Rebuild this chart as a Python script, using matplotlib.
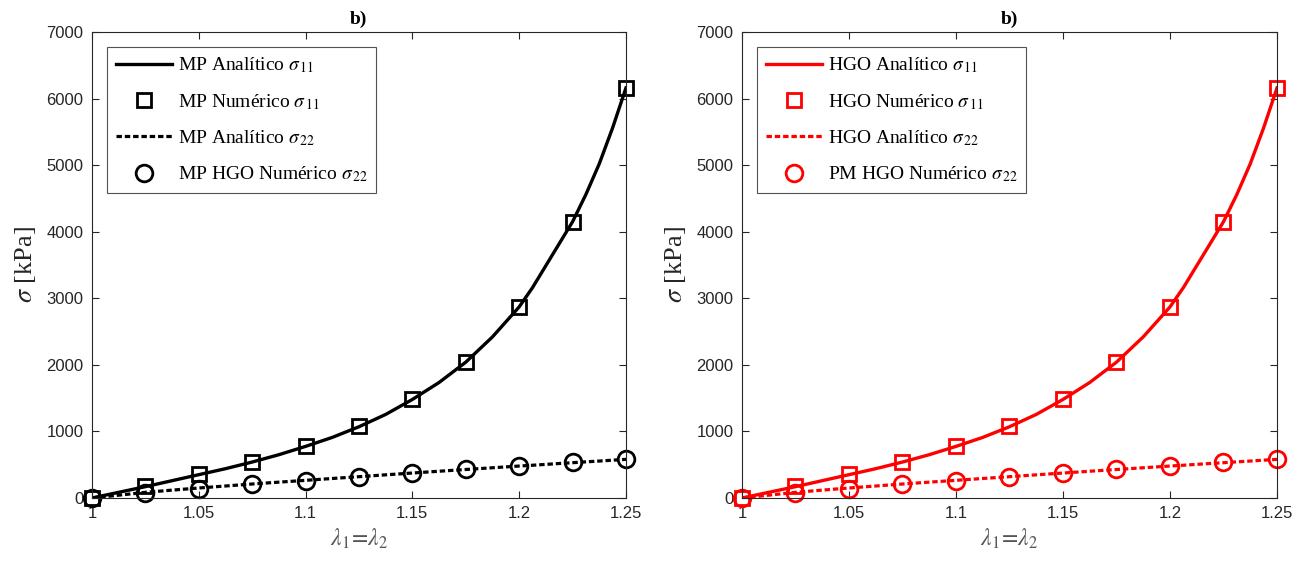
import numpy as np
import matplotlib
matplotlib.use("Agg")
from matplotlib import pyplot as plt

plt.rcParams["mathtext.fontset"] = "stix"
plt.rcParams["font.family"] = ["Liberation Serif", "DejaVu Serif"]

# ---------------------------------------------------------------------------
# Data
# ---------------------------------------------------------------------------
lam_num = [1.0, 1.025, 1.05, 1.075, 1.1, 1.125, 1.15, 1.175, 1.2, 1.225, 1.25]
s11_num = [0, 175, 355, 540, 780, 1075, 1485, 2050, 2875, 4150, 6165]
s22_num = [0, 75, 135, 205, 258, 320, 380, 430, 485, 535, 580]

lam_an = [1.0, 1.0125, 1.025, 1.0375, 1.05, 1.0625, 1.075, 1.0875, 1.1, 1.1125,
          1.125, 1.1375, 1.15, 1.1625, 1.175, 1.1875, 1.2, 1.20625, 1.2125,
          1.21875, 1.225, 1.23125, 1.2375, 1.24375, 1.25]
s11_an = [0, 85, 170, 260, 350, 440, 540, 650, 775, 910, 1070, 1255, 1480,
          1735, 2040, 2420, 2870, 3160, 3490, 3820, 4150, 4560, 5020, 5560, 6160]
s22_an = [0, 42, 85, 118, 150, 180, 210, 238, 265, 293, 320, 348, 375, 402,
          428, 454, 480, 492, 505, 518, 530, 543, 555, 568, 580]

x_ticks = [1, 1.05, 1.1, 1.15, 1.2, 1.25]
x_tick_labels = ["1", "1.05", "1.1", "1.15", "1.2", "1.25"]
y_ticks = [0, 1000, 2000, 3000, 4000, 5000, 6000, 7000]

panels = [
    {"color": "black", "pos": [0.0704, 0.1186, 0.4089, 0.8248],
     "labels": [r"MP Analítico $\sigma_{\,11}$", r"MP Numérico $\sigma_{\,11}$",
                r"MP Analítico $\sigma_{\,22}$", r"MP HGO Numérico $\sigma_{\,22}$"]},
    {"color": "red", "pos": [0.5681, 0.1186, 0.4097, 0.8248],
     "labels": [r"HGO Analítico $\sigma_{\,11}$", r"HGO Numérico $\sigma_{\,11}$",
                r"HGO Analítico $\sigma_{\,22}$", r"PM HGO Numérico $\sigma_{\,22}$"]},
]

fig = plt.figure(figsize=(13.06, 5.65), dpi=100)
grey = "#262626"

for p in panels:
    ax = fig.add_axes(p["pos"])
    c = p["color"]
    ax.plot(lam_an, s11_an, "-", color=c, lw=2.4, label=p["labels"][0])
    ax.plot(lam_num, s11_num, "s", color=c, mfc="none", mew=2, ms=10,
            clip_on=False, label=p["labels"][1])
    ax.plot(lam_an, s22_an, color=c, lw=2.3, dashes=(1.7, 0.9),
            label=p["labels"][2])
    ax.plot(lam_num, s22_num, "o", color=c, mfc="none", mew=2, ms=12,
            clip_on=False, label=p["labels"][3])

    ax.set_xlim(1, 1.25)
    ax.set_ylim(0, 7000)
    ax.set_xticks(x_ticks)
    ax.set_xticklabels(x_tick_labels)
    ax.set_yticks(y_ticks)
    ax.tick_params(direction="in", top=True, right=True, length=5, width=0.8,
                   colors=grey, labelsize=12, pad=6)
    for lab in ax.get_xticklabels() + ax.get_yticklabels():
        lab.set_family(["Liberation Sans Narrow", "Liberation Sans"])
    for s in ax.spines.values():
        s.set_color(grey)
        s.set_linewidth(0.8)

    ax.set_xlabel(r"$\lambda_1\!=\!\lambda_2$", fontsize=17, color="#555555",
                  labelpad=4)
    ax.set_ylabel(r"$\sigma$ [kPa]", fontsize=19, color=grey, labelpad=6)
    ax.set_title("b)", fontsize=14, fontweight="bold", pad=6)

    leg = ax.legend(loc="upper left", bbox_to_anchor=(0.028, 0.968),
                    fontsize=14, frameon=True, fancybox=False,
                    edgecolor=grey, handlelength=2.9, handletextpad=0.3,
                    labelspacing=0.85, borderpad=0.45, borderaxespad=0)
    leg.get_frame().set_linewidth(0.8)

fig.savefig("out.png", dpi=100)
